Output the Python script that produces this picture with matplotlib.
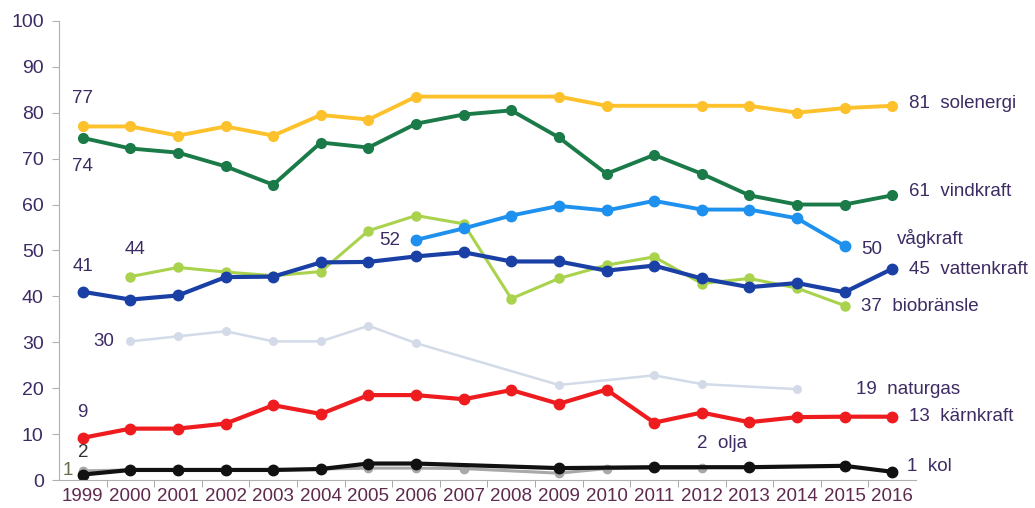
import numpy as np
import matplotlib
matplotlib.use("Agg")
import matplotlib.pyplot as plt

plt.rcParams['font.family'] = ['Liberation Sans', 'DejaVu Sans']

nan = np.nan
years = list(range(1999, 2017))

solenergi = [77, 77, 75, 77, 75, 79.5, 78.5, 83.5, nan, nan, 83.5, 81.5, nan, 81.5, 81.5, 80, 81, 81.5]
vindkraft = [74.5, 72.2, 71.3, 68.3, 64.3, 73.5, 72.4, 77.6, 79.6, 80.5, 74.6, 66.7, 70.8, 66.7, 62, 60, 60, 62]
vagkraft = [nan, nan, nan, nan, nan, nan, nan, 52.3, 54.8, 57.6, 59.7, 58.7, 60.8, 58.9, 58.9, 57, 51, nan]
vattenkraft = [41, 39.3, 40.2, 44.2, 44.3, 47.4, 47.5, 48.7, 49.6, 47.6, 47.6, 45.6, 46.7, 43.9, 42, 42.9, 40.9, 46]
biobransle = [nan, 44.3, 46.3, 45.3, 44.5, 45.4, 54.3, 57.6, 55.8, 39.5, 43.9, 46.8, 48.6, 42.8, 43.9, 41.8, 38, nan]
naturgas = [nan, 30.2, 31.3, 32.4, 30.2, 30.2, 33.6, 29.8, nan, nan, 20.7, nan, 22.8, 20.9, nan, 19.8, nan, nan]
karnkraft = [9.2, 11.2, 11.2, 12.3, 16.3, 14.4, 18.5, 18.5, 17.6, 19.6, 16.6, 19.7, 12.5, 14.7, 12.6, 13.7, 13.8, 13.8]
olja = [2, 2.2, 2.2, 2.2, 2.2, 2.4, 2.6, 2.6, 2.5, nan, 1.5, 2.5, nan, 2.6, nan, nan, nan, nan]
kol = [1.2, 2.2, 2.2, 2.2, 2.2, 2.4, 3.6, 3.6, nan, nan, 2.6, nan, 2.8, nan, 2.8, nan, 3.1, 1.8]

series = [
    (naturgas, '#d3dae8', 1.8, 5.5),
    (olja, '#a8a8a8', 2.2, 6),
    (kol, '#111111', 3, 7.5),
    (karnkraft, '#ee1c1f', 3, 7.5),
    (biobransle, '#a9d24d', 2.2, 6.5),
    (vattenkraft, '#1a40a6', 3, 7.5),
    (vagkraft, '#1e90ee', 2.8, 7.5),
    (vindkraft, '#1a7a48', 2.8, 7),
    (solenergi, '#fdc12c', 2.8, 7),
]

txt = '#3d2b63'

fig = plt.figure(figsize=(10.35, 5.08), dpi=100)
ax = fig.add_axes([0.057, 0.055, 0.828, 0.904])

x = np.array(years)
for vals, color, lw, ms in series:
    v = np.array(vals, dtype=float)
    m = ~np.isnan(v)
    ax.plot(x[m], v[m], color=color, lw=lw, marker='o', ms=ms,
            markeredgecolor=color, solid_joinstyle='round')

ax.set_xlim(1998.5, 2016.5)
ax.set_ylim(0, 100)
ax.set_yticks(range(0, 101, 10))
ax.set_xticks(years)
ax.set_xticks(np.arange(1999.5, 2016.5, 1), minor=True)
ax.tick_params(axis='x', which='major', length=0, pad=6, labelsize=13.5, labelcolor='#5e2a4e')
ax.tick_params(axis='x', which='minor', length=5, color='#9a9a9a', direction='out')
ax.tick_params(axis='y', length=5, color='#b0b0b0', labelsize=14, labelcolor=txt, pad=6)
for s in ['top', 'right']:
    ax.spines[s].set_visible(False)
ax.spines['left'].set_color('#b0b0b0')
ax.spines['bottom'].set_color('#b0b0b0')

fs = 13.5
# labels at start of series
ax.text(1999, 83, '77', ha='center', va='center', fontsize=fs, color=txt)
ax.text(1999, 68.3, '74', ha='center', va='center', fontsize=fs, color=txt)
ax.text(1999, 46.5, '41', ha='center', va='center', fontsize=fs, color=txt)
ax.text(2000.1, 50.3, '44', ha='center', va='center', fontsize=fs, color=txt)
ax.text(2005.45, 52.2, '52', ha='center', va='center', fontsize=fs, color=txt)
ax.text(1999.45, 30.2, '30', ha='center', va='center', fontsize=fs, color=txt)
ax.text(1999, 14.8, '9', ha='center', va='center', fontsize=fs, color=txt)
ax.text(1999, 5.9, '2', ha='center', va='center', fontsize=fs, color='#333333')
ax.text(1998.69, 2, '1', ha='center', va='center', fontsize=fs, color='#6b6a48')

# labels at end of series
ax.text(2016.36, 82, '81  solenergi', ha='left', va='center', fontsize=fs, color=txt)
ax.text(2016.36, 62.8, '61  vindkraft', ha='left', va='center', fontsize=fs, color=txt)
ax.text(2015.35, 50.3, '50', ha='left', va='center', fontsize=fs, color=txt)
ax.text(2016.1, 52.6, 'vågkraft', ha='left', va='center', fontsize=fs, color=txt)
ax.text(2016.36, 45.8, '45  vattenkraft', ha='left', va='center', fontsize=fs, color=txt)
ax.text(2015.35, 37.7, '37  biobränsle', ha='left', va='center', fontsize=fs, color=txt)
ax.text(2015.25, 19.8, '19  naturgas', ha='left', va='center', fontsize=fs, color=txt)
ax.text(2016.36, 13.8, '13  kärnkraft', ha='left', va='center', fontsize=fs, color=txt)
ax.text(2011.9, 8, '2  olja', ha='left', va='center', fontsize=fs, color=txt)
ax.text(2016.32, 3, '1  kol', ha='left', va='center', fontsize=fs, color=txt)

fig.savefig('out.png', dpi=100)
